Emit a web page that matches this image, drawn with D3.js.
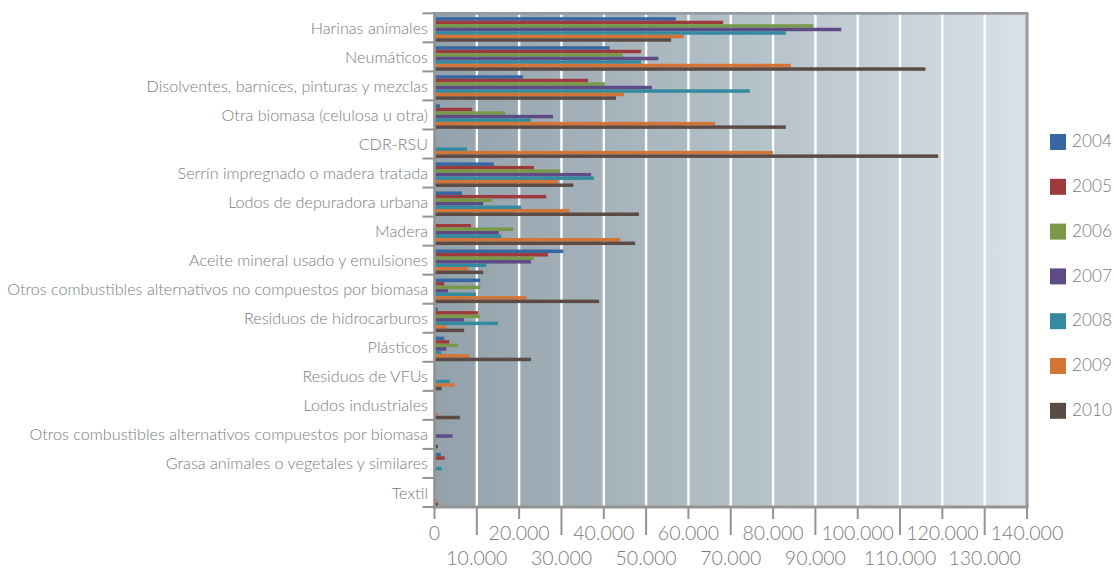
<!DOCTYPE html>
<html>
<head>
<meta charset="utf-8">
<script src="https://cdn.jsdelivr.net/npm/d3@7"></script>
<style>
  html, body { margin: 0; padding: 0; background: #ffffff; }
  svg { display: block; }
  text { font-family: Lato, "Open Sans", sans-serif; font-weight: 300; fill: #7b7b7b; }
</style>
</head>
<body>
<svg id="chart" width="1114" height="570"></svg>
<script>
// Categories, top to bottom
const categories = [
  "Harinas animales",
  "Neumáticos",
  "Disolventes, barnices, pinturas y mezclas",
  "Otra biomasa (celulosa u otra)",
  "CDR-RSU",
  "Serrín impregnado o madera tratada",
  "Lodos de depuradora urbana",
  "Madera",
  "Aceite mineral usado y emulsiones",
  "Otros combustibles alternativos no compuestos por biomasa",
  "Residuos de hidrocarburos",
  "Plásticos",
  "Residuos de VFUs",
  "Lodos industriales",
  "Otros combustibles alternativos compuestos por biomasa",
  "Grasa animales o vegetales y similares",
  "Textil"
];

const years = ["2004", "2005", "2006", "2007", "2008", "2009", "2010"];

// Tonnes per year, one array per series, in category order
const v2004 = [57000, 41400, 20900, 1300, 0, 14000, 6500, 0, 30400, 10800, 800, 2300, 0, 0, 0, 1500, 0];
const v2005 = [68200, 48800, 36300, 8900, 0, 23500, 26400, 8600, 26800, 2300, 10300, 3500, 0, 0, 0, 2400, 0];
const v2006 = [89500, 44500, 40300, 16700, 0, 29700, 13600, 18600, 23500, 10800, 10800, 5600, 0, 0, 0, 0, 0];
const v2007 = [96100, 52900, 51400, 28000, 0, 37000, 11500, 15200, 22800, 3200, 7000, 2800, 0, 0, 4300, 0, 0];
const v2008 = [83000, 48800, 74500, 22800, 7700, 37700, 20500, 15800, 12200, 9800, 15000, 1600, 3600, 0, 0, 1700, 0];
const v2009 = [58900, 84200, 44800, 66300, 80000, 29200, 31800, 43900, 8000, 21800, 2800, 8200, 4800, 700, 0, 0, 700];
const v2010 = [55900, 116000, 42900, 83000, 119000, 32800, 48300, 47400, 11500, 38900, 7000, 22800, 1700, 6000, 800, 0, 800];

const seriesValues = [v2004, v2005, v2006, v2007, v2008, v2009, v2010];
const seriesColors = ["#3767a0", "#9d3a3c", "#789a48", "#5e4b86", "#348a9f", "#d47538", "#5b4b44"];

// Axis ticks and their labels
const xTicks = d3.range(0, 140001, 10000);
const xTickLabels = ["0", "10.000", "20.000", "30.000", "40.000", "50.000", "60.000", "70.000",
                     "80.000", "90.000", "100.000", "110.000", "120.000", "130.000", "140.000"];

const svg = d3.select("#chart");
const plot = { left: 434.5, right: 1027, top: 13.3, bottom: 507 };

const x = d3.scaleLinear().domain([0, 140000]).range([plot.left, plot.right]);
const y = d3.scaleBand().domain(categories).range([plot.top, plot.bottom]).padding(0);
const bw = y.bandwidth();
const yInner = d3.scaleBand().domain(years).range([3.9, bw - 0.6]).padding(0);

// Background gradient of the plot area
const defs = svg.append("defs");
const grad = defs.append("linearGradient").attr("id", "bg")
  .attr("x1", "0%").attr("x2", "100%").attr("y1", "0%").attr("y2", "0%");
grad.append("stop").attr("offset", "0%").attr("stop-color", "#93a1aa");
grad.append("stop").attr("offset", "55%").attr("stop-color", "#b6c2ca");
grad.append("stop").attr("offset", "100%").attr("stop-color", "#d9e1e7");

svg.append("rect")
  .attr("x", plot.left).attr("y", plot.top)
  .attr("width", plot.right - plot.left).attr("height", plot.bottom - plot.top)
  .attr("fill", "url(#bg)");

// Vertical white gridlines
svg.append("g").selectAll("line")
  .data(xTicks.slice(1, -1))
  .join("line")
  .attr("x1", d => x(d)).attr("x2", d => x(d))
  .attr("y1", plot.top).attr("y2", plot.bottom)
  .attr("stroke", "#ffffff").attr("stroke-width", 2.4);

// Bars
const groups = svg.append("g").selectAll("g")
  .data(years)
  .join("g")
  .attr("fill", (d, i) => seriesColors[i]);

groups.selectAll("rect")
  .data((yr, i) => seriesValues[i].map((v, j) => ({ cat: categories[j], v, yr })))
  .join("rect")
  .filter(d => d.v > 0)
  .attr("x", x(0))
  .attr("y", d => y(d.cat) + yInner(d.yr))
  .attr("width", d => x(d.v) - x(0))
  .attr("height", yInner.bandwidth());

// Frame: top and right borders
const frameColor = "#979a9d";
svg.append("line")
  .attr("x1", plot.left).attr("x2", plot.right + 1.5)
  .attr("y1", plot.top).attr("y2", plot.top)
  .attr("stroke", frameColor).attr("stroke-width", 2.8);
svg.append("line")
  .attr("x1", plot.right).attr("x2", plot.right)
  .attr("y1", plot.top).attr("y2", plot.bottom)
  .attr("stroke", frameColor).attr("stroke-width", 3);

// Category axis
const axisColor = "#939393";
svg.append("line")
  .attr("x1", plot.left).attr("x2", plot.left)
  .attr("y1", plot.top - 1.4).attr("y2", plot.bottom + 1.5)
  .attr("stroke", axisColor).attr("stroke-width", 2.6);

const catBounds = categories.map(c => y(c)).concat([plot.bottom]);
svg.append("g").selectAll("line")
  .data(catBounds)
  .join("line")
  .attr("x1", plot.left - 12).attr("x2", plot.left)
  .attr("y1", d => d).attr("y2", d => d)
  .attr("stroke", axisColor).attr("stroke-width", 2);

svg.append("g").selectAll("text")
  .data(categories)
  .join("text")
  .attr("x", 428)
  .attr("y", d => y(d) + bw / 2 + 2)
  .attr("text-anchor", "end")
  .attr("dominant-baseline", "middle")
  .attr("font-size", "16.2px")
  .text(d => d);

// Value axis
svg.append("line")
  .attr("x1", plot.left - 1.3).attr("x2", plot.right + 1.5)
  .attr("y1", plot.bottom).attr("y2", plot.bottom)
  .attr("stroke", axisColor).attr("stroke-width", 3);

svg.append("g").selectAll("line")
  .data(xTicks)
  .join("line")
  .attr("x1", d => x(d)).attr("x2", d => x(d))
  .attr("y1", plot.bottom)
  .attr("y2", (d, i) => i % 2 === 0 ? 519 : 535)
  .attr("stroke", axisColor).attr("stroke-width", 2);

svg.append("g").selectAll("text")
  .data(xTicks)
  .join("text")
  .attr("x", d => x(d))
  .attr("y", (d, i) => i % 2 === 0 ? 535 : 560)
  .attr("text-anchor", "middle")
  .attr("dominant-baseline", "middle")
  .attr("font-size", "19.5px")
  .text((d, i) => xTickLabels[i]);

// Legend
const legend = svg.append("g").selectAll("g")
  .data(years)
  .join("g")
  .attr("transform", (d, i) => `translate(1050, ${142 + i * 44.8})`);
legend.append("rect")
  .attr("x", 0).attr("y", -8).attr("width", 16).attr("height", 16)
  .attr("fill", (d, i) => seriesColors[i]);
legend.append("text")
  .attr("x", 22).attr("y", 1)
  .attr("dominant-baseline", "middle")
  .attr("font-size", "17.2px")
  .text(d => d);
</script>
</body>
</html>
